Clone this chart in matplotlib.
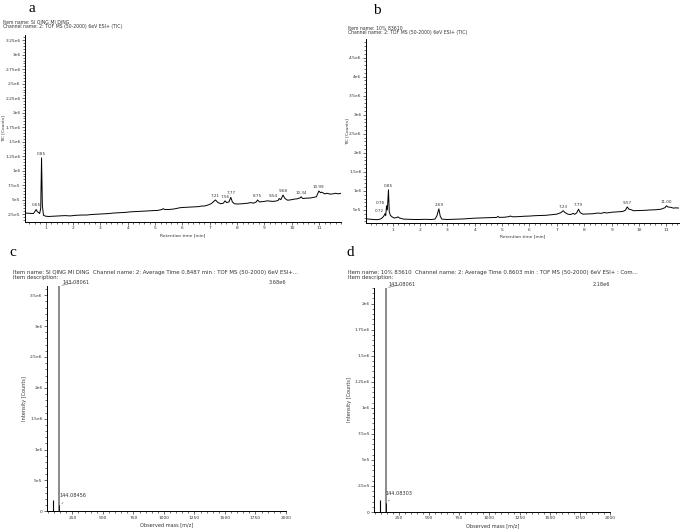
import numpy as np
import matplotlib
matplotlib.use("Agg")
import matplotlib.pyplot as plt
from matplotlib.ticker import MultipleLocator, AutoMinorLocator, FuncFormatter

# ---- data (TIC values in units of 1e5 counts) ----
a_time = [0.25, 0.4, 0.55, 0.6, 0.65, 0.7, 0.74, 0.78, 0.82, 0.85, 0.88, 0.92, 1.0, 1.1, 1.3, 1.5,
          1.7, 1.9, 2.1, 2.3, 2.5, 2.7, 2.9, 3.1, 3.3, 3.5, 3.7, 3.9, 4.1, 4.3, 4.5, 4.7, 4.9, 5.1,
          5.25, 5.3, 5.35, 5.5, 5.7, 5.9, 6.0, 6.2, 6.4, 6.6, 6.7, 6.8, 6.95, 7.05, 7.15, 7.21, 7.3,
          7.4, 7.5, 7.56, 7.62, 7.7, 7.77, 7.83, 7.9, 8.0, 8.2, 8.4, 8.5, 8.6, 8.7, 8.75, 8.82, 8.9,
          9.0, 9.1, 9.2, 9.3, 9.4, 9.5, 9.54, 9.6, 9.68, 9.75, 9.85, 10.0, 10.1, 10.2, 10.3, 10.34,
          10.4, 10.5, 10.7, 10.9, 10.99, 11.05, 11.1, 11.2, 11.3, 11.4, 11.5, 11.6, 11.7, 11.8]
a_tic = [2.7, 2.65, 2.6, 2.9, 3.3, 2.9, 2.8, 2.6, 3.5, 12.2, 4.0, 2.3, 2.15, 2.1, 2.15, 2.2,
         2.25, 2.2, 2.3, 2.35, 2.35, 2.45, 2.5, 2.55, 2.6, 2.7, 2.75, 2.8, 2.9, 2.95, 3.0, 3.05, 3.1, 3.15,
         3.3, 3.45, 3.3, 3.3, 3.4, 3.6, 3.65, 3.7, 3.75, 3.8, 3.9, 3.9, 4.1, 4.3, 4.7, 4.95, 4.5,
         4.3, 4.4, 4.8, 4.5, 4.6, 5.4, 4.6, 4.3, 4.25, 4.3, 4.4, 4.5, 4.4, 4.6, 4.95, 4.6, 4.65,
         4.7, 4.8, 4.75, 4.7, 4.75, 4.85, 5.2, 5.0, 5.8, 5.2, 4.9, 5.0, 5.1, 5.15, 5.3, 5.5,
         5.2, 5.25, 5.3, 5.5, 6.5, 6.2, 6.3, 6.0, 6.1, 5.95, 6.0, 6.1, 6.0, 6.1]
a_peaks = [0.65, 0.85, 7.21, 7.56, 7.77, 8.75, 9.54, 9.68, 10.34, 10.99]

b_time = [0.03, 0.15, 0.3, 0.45, 0.55, 0.62, 0.68, 0.72, 0.75, 0.78, 0.81, 0.85, 0.88, 0.92, 0.98,
          1.05, 1.15, 1.2, 1.25, 1.4, 1.6, 1.8, 2.0, 2.2, 2.4, 2.55, 2.62, 2.69, 2.74, 2.8, 3.0,
          3.2, 3.4, 3.6, 3.8, 4.0, 4.2, 4.4, 4.6, 4.8, 4.85, 4.9, 5.1, 5.25, 5.3, 5.4, 5.6, 5.8,
          6.0, 6.2, 6.4, 6.6, 6.8, 7.0, 7.15, 7.23, 7.3, 7.4, 7.5, 7.6, 7.65, 7.72, 7.79, 7.85,
          7.95, 8.1, 8.3, 8.5, 8.6, 8.75, 8.8, 9.0, 9.2, 9.4, 9.5, 9.57, 9.63, 9.7, 9.8, 10.0,
          10.2, 10.4, 10.6, 10.8, 10.95, 11.0, 11.05, 11.15, 11.25, 11.35, 11.46]
b_tic = [2.65, 2.6, 2.5, 2.45, 2.6, 2.9, 3.4, 4.0, 3.5, 6.1, 5.0, 10.3, 4.5, 3.6, 3.2,
         2.9, 3.0, 3.2, 2.9, 2.6, 2.55, 2.5, 2.5, 2.55, 2.5, 2.6, 3.5, 5.3, 3.4, 2.6, 2.5,
         2.55, 2.6, 2.65, 2.75, 2.85, 2.9, 2.95, 3.0, 3.05, 3.3, 3.05, 3.1, 3.25, 3.4, 3.2, 3.25, 3.35,
         3.4, 3.5, 3.55, 3.6, 3.75, 3.9, 4.3, 4.8, 4.3, 3.9, 3.8, 4.1, 3.85, 4.2, 5.2, 4.3,
         3.9, 3.95, 4.0, 4.2, 4.1, 4.35, 4.2, 4.4, 4.5, 4.6, 4.9, 5.8, 5.2, 5.1, 4.8, 4.85,
         4.9, 5.0, 5.05, 5.2, 5.6, 6.1, 5.8, 5.7, 5.5, 5.55, 5.5]
b_peaks = [0.72, 0.78, 0.85, 2.69, 7.23, 7.79, 9.57, 11.00]

# peak labels drawn to the left of their peak
left_labels = {0.72, 0.78, 9.54}

# mass spectra: m/z and intensity
c_mz = [95.0, 143.08061, 144.08456]
c_int = [1.8e5, 3.68e6, 1.0e5]
c_labels = ["143.08061", "144.08456"]
d_mz = [95.0, 143.08061, 144.08303]
d_int = [1.15e5, 2.18e6, 0.9e5]
d_labels = ["143.08061", "144.08303"]

W, H = 682, 530
fig = plt.figure(figsize=(W / 100, H / 100), dpi=100)
plt.rcParams['font.family'] = ['DejaVu Sans']
GREY = "#333333"


def px_axes(x0, y0, x1, y1):
    return fig.add_axes([x0 / W, 1 - y1 / H, (x1 - x0) / W, (y1 - y0) / H])


def sci(v, pos):
    if v == 0:
        return "0"
    e = int(np.floor(np.log10(abs(v)) + 1e-9))
    return f"{v / 10 ** e:g}e{e}"


def style(ax, xmaj, ymaj):
    for s in ["top", "right"]:
        ax.spines[s].set_visible(False)
    for s in ["left", "bottom"]:
        ax.spines[s].set_linewidth(0.7)
    ax.xaxis.set_major_locator(MultipleLocator(xmaj))
    ax.yaxis.set_major_locator(MultipleLocator(ymaj))
    ax.xaxis.set_minor_locator(AutoMinorLocator(5))
    ax.yaxis.set_minor_locator(AutoMinorLocator(5))
    ax.yaxis.set_major_formatter(FuncFormatter(sci))
    ax.tick_params(which="major", length=2.2, width=0.5, labelsize=3.2, pad=1, colors=GREY)
    ax.tick_params(which="minor", length=1.2, width=0.4)


def tic_panel(ax, t, v, peaks, xlim, ylim, ymaj, ylab_x):
    t = np.array(t)
    v = np.array(v) * 1e5
    ax.plot(t, v, color="black", lw=0.7)
    ax.set_xlim(*xlim)
    ax.set_ylim(*ylim)
    style(ax, 1, ymaj)
    ax.set_xticks(range(1, 12))
    for p in peaks:
        i = np.argmin(np.abs(t - p))
        if p in left_labels:
            xt, ha = (-1, 0.5), "right"
        else:
            xt, ha = (0, 1.5), "center"
        ax.annotate(f"{p:.2f}", (p, v[i]), xytext=xt, textcoords="offset points",
                    ha=ha, va="bottom", fontsize=3.0, color=GREY)
    ax.set_xlabel("Retention time [min]", fontsize=3.2, labelpad=2, color=GREY)
    ax.set_ylabel("TIC [Counts]", fontsize=3.2, color=GREY)
    ax.yaxis.set_label_coords(ylab_x, 0.5)


def ms_panel(ax, mz, inten, labels, xlim, ylim, ymaj, top_label):
    ax.vlines(mz[0], 0, inten[0], color="black", lw=0.8)
    ax.vlines(mz[1], 0, inten[1], color="#8a8a8a", lw=1.4)
    ax.vlines(mz[2], 0, inten[2], color="black", lw=0.6)
    ax.set_xlim(*xlim)
    ax.set_ylim(*ylim)
    style(ax, 250, ymaj)
    ax.set_xticks(range(250, 2001, 250))
    ax.annotate(labels[0], (mz[1], ylim[1]), xytext=(2, 1), textcoords="offset points",
                ha="left", va="bottom", fontsize=3.6, color=GREY,
                arrowprops=dict(arrowstyle="-", lw=0.4, color="#555555"), annotation_clip=False)
    ax.annotate(labels[1], (mz[2], inten[2]), xytext=(0, 5), textcoords="offset points",
                ha="left", va="bottom", fontsize=3.6, color=GREY,
                arrowprops=dict(arrowstyle="-", lw=0.4, color="#555555"))
    ax.text(1.0, 1.005, top_label, transform=ax.transAxes, ha="right", va="bottom",
            fontsize=3.6, color=GREY)
    ax.set_xlabel("Observed mass [m/z]", fontsize=3.6, labelpad=2, color=GREY)
    ax.set_ylabel("Intensity [Counts]", fontsize=3.6, labelpad=2, color=GREY)


ax_a = px_axes(25, 35, 341, 221.7)
tic_panel(ax_a, a_time, a_tic, a_peaks, (0.245, 11.8), (1.2e5, 3.34e6), 2.5e5, -0.062)
ax_b = px_axes(366, 39.3, 679, 223.3)
tic_panel(ax_b, b_time, b_tic, b_peaks, (0.03, 11.46), (1.5e5, 4.98e6), 5e5, -0.052)
ax_c = px_axes(47, 286, 286, 511.3)
ms_panel(ax_c, c_mz, c_int, c_labels, (42, 2000), (0, 3.65e6), 5e5, "3.68e6")
ax_d = px_axes(374.3, 288, 610.3, 512)
ms_panel(ax_d, d_mz, d_int, d_labels, (48, 2000), (0, 2.15e6), 2.5e5, "2.18e6")

# headers
hdr = dict(fontsize=3.3, color=GREY, va="center", ha="left")
fig.text(3 / W, 1 - 22 / H, "Item name: SI QING MI DING", **hdr)
fig.text(3 / W, 1 - 26.7 / H, "Channel name: 2: TOF MS (50-2000) 6eV ESI+ (TIC)", **hdr)
fig.text(348 / W, 1 - 28 / H, "Item name: 10% 83610", **hdr)
fig.text(348 / W, 1 - 32.7 / H, "Channel name: 2: TOF MS (50-2000) 6eV ESI+ (TIC)", **hdr)
hdr2 = dict(fontsize=3.9, color=GREY, va="center", ha="left")
fig.text(13 / W, 1 - 272.7 / H,
         "Item name: SI QING MI DING  Channel name: 2: Average Time 0.8487 min : TOF MS (50-2000) 6eV ESI+...",
         **hdr2)
fig.text(13 / W, 1 - 277.5 / H, "Item description:", **hdr2)
fig.text(348 / W, 1 - 272.7 / H,
         "Item name: 10% 83610  Channel name: 2: Average Time 0.8603 min : TOF MS (50-2000) 6eV ESI+ : Com...",
         **hdr2)
fig.text(348 / W, 1 - 277.5 / H, "Item description:", **hdr2)

# panel letters
let = dict(fontsize=11, family="Liberation Serif", ha="center", va="center")
fig.text(32 / W, 1 - 9 / H, "a", **let)
fig.text(377 / W, 1 - 10 / H, "b", **let)
fig.text(13 / W, 1 - 252 / H, "c", **let)
fig.text(350 / W, 1 - 252 / H, "d", **let)

fig.savefig("out.png", dpi=100)
